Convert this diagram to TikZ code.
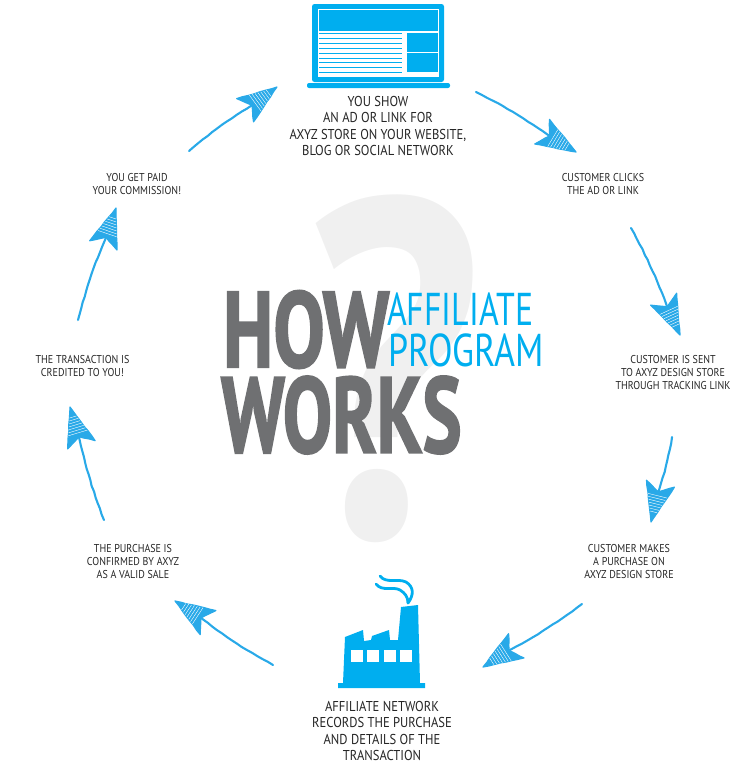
\documentclass[tikz,border=0pt]{standalone}
\usepackage{fontspec}
\setmainfont{PT Sans}
\newfontfamily\labelfont[FakeStretch=0.88]{PT Sans}
\newfontfamily\titlefont[BoldFeatures={FakeBold=2}]{PT Sans}
\usetikzlibrary{calc, decorations.pathmorphing}
\definecolor{skyblue}{HTML}{00AEEF}
\definecolor{arrowblue}{HTML}{29A9E8}
\definecolor{slategray}{HTML}{6F7072}
\definecolor{markgray}{HTML}{F0F0F0}
\tikzset{
    steptext/.style={align=center, text=black!85, font=\labelfont\fontsize{11.4}{13}\selectfont, inner sep=0pt},
    maintext/.style={align=center, text=black!85, font=\labelfont\fontsize{14.3}{16.3}\selectfont, inner sep=0pt},
    titletext/.style={text=slategray, font=\titlefont\fontsize{107}{107}\selectfont\bfseries, inner sep=0pt, anchor=west, transform shape},
    subtext/.style={text=skyblue, font=\fontsize{46}{46}\selectfont, inner sep=0pt, anchor=west, transform shape},
    sketch/.style={draw=arrowblue, line width=2.1pt, line cap=round, line join=round,
        decorate, decoration={random steps, segment length=6pt, amplitude=0.3pt}},
    hatch/.style={draw=white, line width=0.4pt},
    linefill/.style={draw=skyblue, line width=1pt},
    smoke/.style={draw=skyblue, line width=2.8pt, line cap=round}
}
\pgfmathsetseed{7}
\begin{document}
\begin{tikzpicture}[x=1pt, y=-1pt]
    \useasboundingbox (0,0) rectangle (750,763);

    % Question mark behind the title
    \node[text=markgray, font=\fontsize{480}{480}\selectfont\bfseries, inner sep=0pt, xscale=0.81, xslant=0.03, transform shape] (mark) at (392,369) {?};

    % --- Title ---
    \node[titletext, xscale=0.72] (how) at (223,329.5) {HOW};
    \node[titletext, xscale=0.69] (works) at (221,415) {WORKS};
    \node[subtext, xscale=0.735] (affiliate) at (387,309) {AFFILIATE};
    \node[subtext, xscale=0.78] (program) at (388,350.5) {PROGRAM};

    % --- Laptop ---
    \fill[skyblue, rounded corners=2.5pt] (312,4) rectangle (444,82);
    \fill[skyblue, rounded corners=2pt] (307,83) rectangle (450,88);
    \fill[white] (318,9) rectangle (439,77);
    \fill[skyblue] (319,10) rectangle (438,31);
    \fill[skyblue] (407,32.5) rectangle (438,52);
    \fill[skyblue] (407,53) rectangle (438,72);
    \foreach \i in {0,...,8}
        \draw[linefill] (319,33.5+4.9*\i) -- (402,33.5+4.9*\i);

    % --- Factory ---
    \fill[skyblue] (338,688) -- (338,683) -- (343,683) -- (345,637) -- (363,630) -- (364,641) -- (371,640) -- (372,636)
        -- (389,630) -- (390,640) -- (398,640) -- (401,607) -- (418,605) -- (420,683) -- (425,683) -- (425,688) -- cycle;
    \foreach \x in {351,367,384,400}
        \fill[white] (\x,650) rectangle ++(11.5,12);
    \draw[smoke] (380,576) .. controls (386,584) and (398,578) .. (406,582) .. controls (414,587) and (414,595) .. (408,603);
    \draw[smoke] (376,584) .. controls (382,592) and (393,586) .. (400,590) .. controls (405,593) and (408,597) .. (408,603);

    % --- Labels ---
    \node[maintext] (show) at (378,126) {YOU SHOW\\AN AD OR LINK FOR\\AXYZ STORE ON YOUR WEBSITE,\\BLOG OR SOCIAL NETWORK};
    \node[steptext] (clicks) at (603,184.5) {CUSTOMER CLICKS\\THE AD OR LINK};
    \node[steptext] (sent) at (673,373) {CUSTOMER IS SENT\\TO AXYZ DESIGN STORE\\THROUGH TRACKING LINK};
    \node[steptext] (buys) at (629,562) {CUSTOMER MAKES\\A PURCHASE ON\\AXYZ DESIGN STORE};
    \node[maintext] (records) at (382,731) {AFFILIATE NETWORK\\RECORDS THE PURCHASE\\AND DETAILS OF THE\\TRANSACTION};
    \node[steptext] (confirmed) at (133,562) {THE PURCHASE IS\\CONFIRMED BY AXYZ\\AS A VALID SALE};
    \node[steptext] (credited) at (82.5,366.5) {THE TRANSACTION IS\\CREDITED TO YOU!};
    \node[steptext] (paid) at (137,184) {YOU GET PAID\\YOUR COMMISSION!};

    % --- Arrows: name/tail/tip/bend ---
    \foreach \n/\tx/\ty/\hx/\hy/\b in {
        a/476/92/576/152/-4, b/631/228/680/335/-4, c/672/437/651/522/-4, d/582/604/483/667/-4,
        e/273/665/175/601/-4, f/104/520/70/407/-4, g/78/320/116/208/-4, h/189/151/277/87/-4} {
        \coordinate (tail\n) at (\tx,\ty);
        \coordinate (tip\n) at (\hx,\hy);
        \coordinate (left\n) at ($(tip\n)!42pt!20:(tail\n)$);
        \coordinate (right\n) at ($(tip\n)!42pt!-20:(tail\n)$);
        \coordinate (back\n) at ($(tip\n)!31pt!(tail\n)$);
        % Shaft
        \draw[sketch] (tail\n) to[bend right=\b] (back\n);
        % Head with its scribbled shading
        \fill[arrowblue] (tip\n) -- (left\n) -- (back\n) -- (right\n) -- cycle;
        \draw[sketch, line width=1.2pt] (tip\n) -- (left\n) -- (back\n) -- (right\n) -- cycle;
        \foreach \s in {0.3,0.38,0.46,0.54,0.62,0.7,0.78}
            \draw[hatch] ($(tip\n)!\s!(left\n)!0.12!(tip\n)$) -- ($(tip\n)!\s!(right\n)!0.12!(tip\n)$);
    }
\end{tikzpicture}
\end{document}
